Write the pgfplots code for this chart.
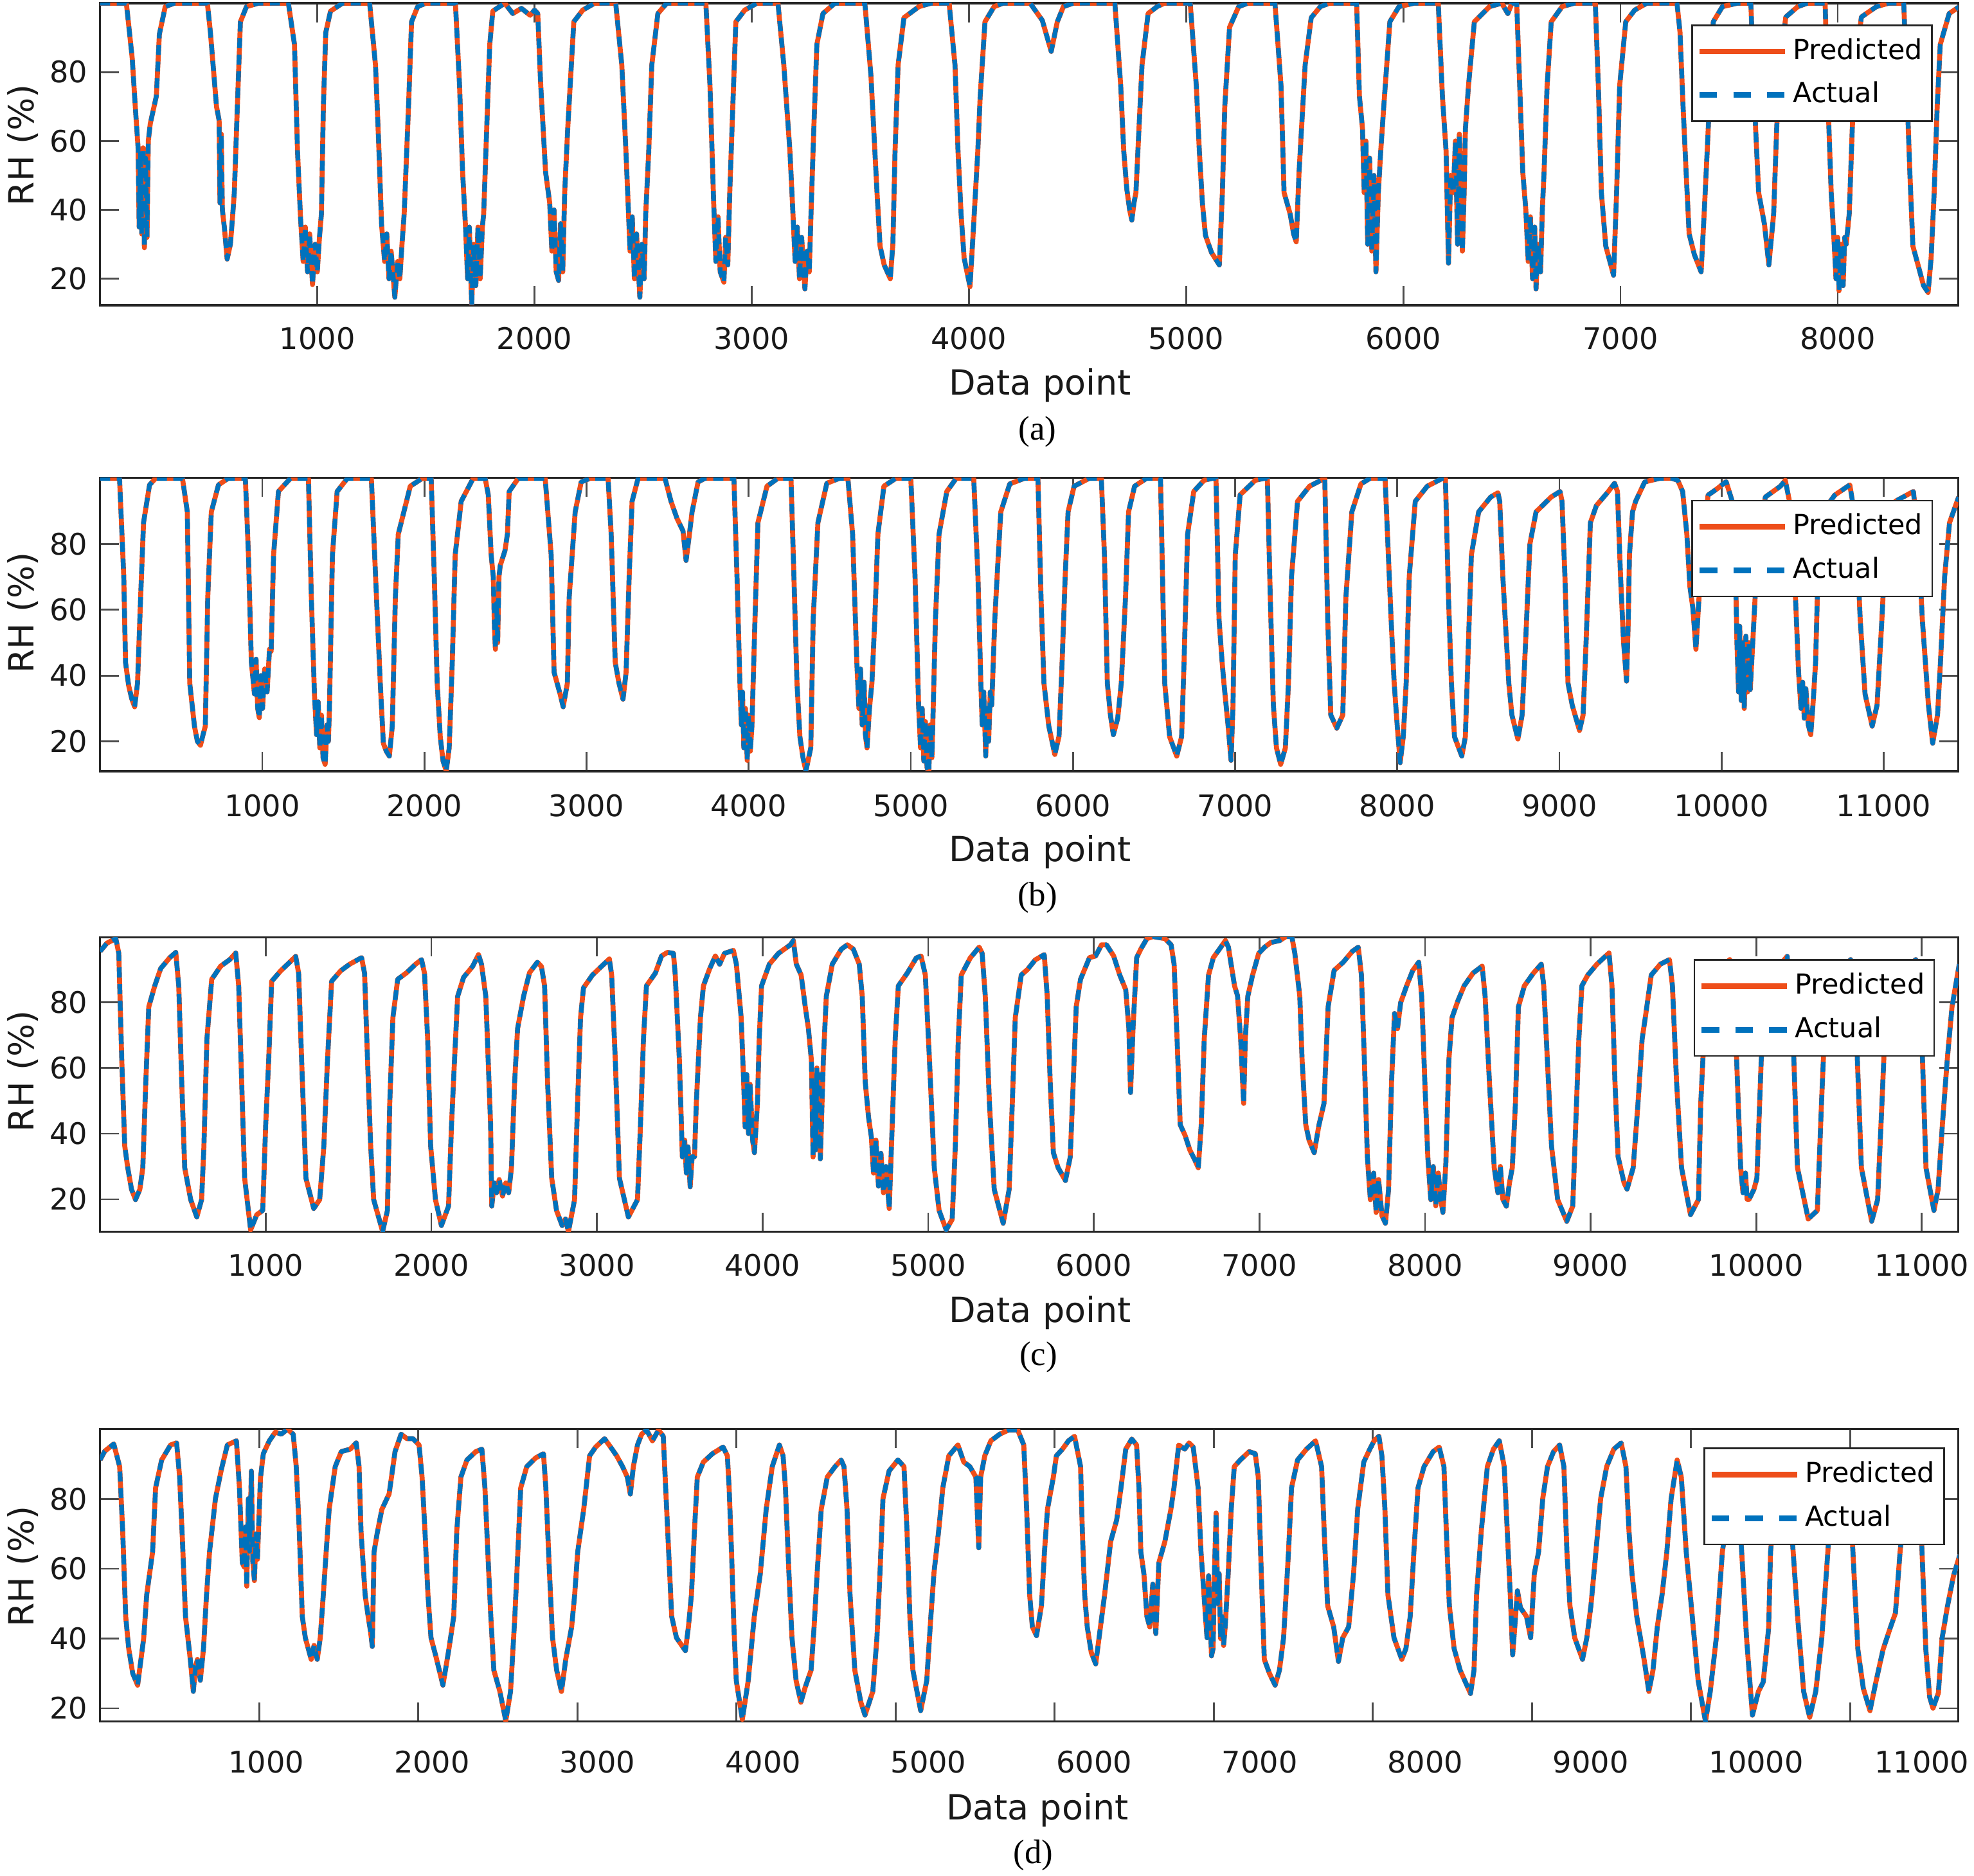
\documentclass[border=0pt]{standalone}
\usepackage{fontspec}
\setmainfont{DejaVu Sans}
\newfontfamily\capfont{Liberation Serif}
\usepackage{pgfplots}
\usepackage{pgfplotstable}
\pgfplotsset{compat=1.18}
\definecolor{predc}{RGB}{238,78,26}
\definecolor{actc}{RGB}{0,114,189}

\pgfplotstableread[row sep=\\]{x y\\
0 100\\ 121 100\\ 148 84\\ 162 70\\ 175 58\\ 180 35\\ 186 57\\ 192 33\\ 198 58\\ 204 29\\ 210 55\\ 216 32\\ 222 60\\ 231 65\\ 259 73\\ 273 91\\ 300 99\\ 342 100\\
494 100\\ 508 91.5\\ 536 70\\ 548 66\\ 552 42\\ 558 62\\ 563 40\\ 572 35\\ 585 25.7\\ 600 30\\ 610 38\\ 618 45\\ 632 70\\ 646 94.6\\ 674 99\\ 729 100\\
867 100\\ 895 88\\ 909 57\\ 923 37.5\\ 935 25\\ 945 35\\ 955 22\\ 965 33\\ 978 18.3\\ 990 30\\ 1000 22\\ 1010 32\\ 1019 38.8\\ 1028 70\\ 1039 91.5\\ 1061 97.7\\ 1116 100\\
1241 100\\ 1268 82\\ 1282 60.5\\ 1296 35.7\\ 1310 25\\ 1320 33\\ 1330 20\\ 1340 28\\ 1357 14.6\\ 1370 25\\ 1380 20\\ 1390 30\\ 1400 38.8\\ 1420 70\\ 1434 94.6\\ 1462 99\\ 1500 100\\
1636 100\\ 1655 76\\ 1669 51\\ 1683 34.4\\ 1692 20\\ 1700 35\\ 1711 12.2\\ 1720 30\\ 1730 18\\ 1740 35\\ 1750 20\\ 1760 35\\ 1766 38.8\\ 1780 63.6\\ 1794 88\\ 1808 97.7\\ 1863 100\\ 1900 97\\ 1940 98.5\\ 1980 96.5\\ 2000 98\\ 2015 97\\
2028 77\\ 2051 51\\ 2070 42\\ 2080 28\\ 2090 40\\ 2100 22\\ 2111 19.5\\ 2120 36\\ 2130 22\\ 2139 45\\ 2153 63.6\\ 2181 94.6\\ 2222 98\\ 2277 100\\
2374 100\\ 2402 82\\ 2421 57\\ 2429 45\\ 2440 28\\ 2450 38\\ 2460 20\\ 2470 33\\ 2485 14.6\\ 2495 30\\ 2505 20\\ 2512 38.8\\ 2526 57\\ 2540 82\\ 2568 97\\ 2609 100\\
2789 100\\ 2808 76\\ 2825 42\\ 2835 25\\ 2845 38\\ 2855 22\\ 2872 19\\ 2880 32\\ 2890 24\\ 2899 45\\ 2913 70\\ 2927 94.6\\ 2968 98\\ 3024 100\\
3121 100\\ 3148 82\\ 3176 57\\ 3190 38.8\\ 3200 25\\ 3210 35\\ 3220 20\\ 3230 32\\ 3245 17\\ 3255 28\\ 3265 22\\ 3273 38.8\\ 3286 63.6\\ 3300 88\\ 3328 97\\ 3383 100\\
3521 100\\ 3549 79\\ 3577 45\\ 3591 29.5\\ 3610 24\\ 3638 20\\ 3650 30\\ 3660 57\\ 3674 82\\ 3701 95.8\\ 3770 99\\ 3826 100\\
3909 100\\ 3936 82\\ 3950 57\\ 3964 38.8\\ 3978 26\\ 4005 17.7\\ 4019 32.6\\ 4041 57\\ 4052 73\\ 4074 94.6\\ 4116 99\\ 4157 100\\
4282 100\\ 4338 95\\ 4379 86\\ 4407 94.6\\ 4435 99\\ 4480 100\\
4672 100\\ 4699 76\\ 4713 57\\ 4727 46\\ 4740 40\\ 4750 37\\ 4760 42\\ 4769 45\\ 4783 63.6\\ 4797 82\\ 4825 97\\ 4866 99\\ 4900 100\\
5019 100\\ 5047 76\\ 5061 57\\ 5075 42\\ 5089 32.6\\ 5117 27.6\\ 5153 24\\ 5167 45\\ 5178 70\\ 5200 93\\ 5242 99\\ 5284 100\\
5409 100\\ 5437 76\\ 5451 45\\ 5479 38.8\\ 5495 33\\ 5507 30.7\\ 5520 51\\ 5548 82\\ 5576 95.8\\ 5618 99\\ 5660 100\\
5785 100\\ 5798 73\\ 5812 63.6\\ 5820 45\\ 5828 60\\ 5836 30\\ 5845 55\\ 5855 28\\ 5865 50\\ 5874 22\\ 5885 45\\ 5896 57\\ 5910 70\\ 5938 94.6\\ 5980 99\\ 6050 100\\
6161 100\\ 6180 73\\ 6197 57\\ 6208 24.5\\ 6218 50\\ 6230 45\\ 6240 60\\ 6250 30\\ 6258 62\\ 6272 28\\ 6280 45\\ 6286 63.6\\ 6300 76\\ 6327 94.6\\ 6397 99\\ 6453 100\\ 6481 97\\ 6500 100\\
6522 100\\ 6536 76\\ 6550 51\\ 6564 40\\ 6575 25\\ 6585 38\\ 6595 20\\ 6605 35\\ 6611 17\\ 6620 30\\ 6632 22\\ 6640 40\\ 6648 51\\ 6662 76\\ 6681 94.6\\ 6731 99\\ 6787 100\\
6884 100\\ 6898 76\\ 6912 45\\ 6932 29.5\\ 6968 21\\ 6982 45\\ 6996 76\\ 7024 94.6\\ 7065 98\\ 7121 100\\
7260 100\\ 7274 91.5\\ 7288 70\\ 7302 51\\ 7316 33\\ 7340 27\\ 7371 22\\ 7385 38.8\\ 7399 57\\ 7413 76\\ 7427 94.6\\ 7469 99\\ 7538 100\\
7600 100\\ 7622 63.6\\ 7636 45\\ 7663 35.7\\ 7683 24\\ 7705 38.8\\ 7719 63.6\\ 7733 82\\ 7761 96\\ 7816 99\\ 7860 100\\
7942 100\\ 7956 70\\ 7970 45\\ 7984 30\\ 7992 20\\ 8000 32\\ 8006 16.5\\ 8015 30\\ 8025 18\\ 8032 32\\ 8039 30\\ 8053 38.8\\ 8067 63.6\\ 8081 82\\ 8109 96\\ 8178 99\\ 8234 100\\
8304 100\\ 8318 76\\ 8332 51\\ 8346 29.5\\ 8374 23\\ 8395 18\\ 8416 16\\ 8430 26\\ 8444 45\\ 8458 70\\ 8472 88\\ 8513 97\\ 8560 99\\
}\tabA

\pgfplotstableread[row sep=\\]{x y\\
0 100\\ 120 100\\ 146 70.2\\ 157 44\\ 176 37\\ 195 33\\ 213 30.5\\ 231 37.7\\ 250 63.7\\ 268 86.5\\ 305 98\\ 342 100\\
508 100\\ 538 89.8\\ 553 37.7\\ 582 24.6\\ 600 20\\ 619 18.8\\ 635 22\\ 649 24.6\\ 664 63.7\\ 686 89.8\\ 730 98\\ 790 100\\
896 100\\ 915 76.7\\ 933 44\\ 952 34.4\\ 962 45\\ 972 30\\ 982 27.2\\ 992 40\\ 1002 30\\ 1015 42\\ 1030 35\\ 1045 48\\ 1055 47.4\\ 1070 76.7\\ 1100 96\\ 1174 100\\
1285 100\\ 1303 63.7\\ 1322 34.4\\ 1335 22\\ 1345 32\\ 1355 18\\ 1365 28\\ 1375 15\\ 1388 13\\ 1400 25\\ 1408 20\\ 1414 29\\ 1433 76.7\\ 1462 96\\ 1525 100\\
1673 100\\ 1699 70.2\\ 1728 37.7\\ 1747 19.4\\ 1765 17\\ 1784 15.5\\ 1802 24.6\\ 1821 63.7\\ 1839 83\\ 1913 97.6\\ 1987 100\\
2042 100\\ 2061 70.2\\ 2079 37.7\\ 2098 21.4\\ 2115 14\\ 2135 11\\ 2153 18\\ 2172 44\\ 2190 76.7\\ 2227 93\\ 2301 100\\
2375 100\\ 2394 95\\ 2412 76.7\\ 2425 70\\ 2432 55\\ 2438 48\\ 2445 62\\ 2452 50\\ 2460 70\\ 2468 73.5\\ 2497 78\\ 2512 83\\ 2523 96\\ 2579 100\\
2745 100\\ 2782 76.7\\ 2800 41\\ 2837 34.4\\ 2856 30.5\\ 2882 37.7\\ 2893 63.7\\ 2930 89.8\\ 2967 98.9\\ 3022 100\\
3133 100\\ 3152 83\\ 3177 44\\ 3200 37.7\\ 3225 32.8\\ 3244 41\\ 3263 70.2\\ 3281 93\\ 3318 100\\
3484 100\\ 3521 93\\ 3558 87.8\\ 3595 84\\ 3614 75\\ 3632 82\\ 3651 89.8\\ 3688 98.9\\ 3730 100\\
3909 100\\ 3928 70.2\\ 3946 37.7\\ 3955 25\\ 3962 35\\ 3970 18\\ 3980 30\\ 3991 14.2\\ 4000 28\\ 4010 17\\ 4020 24.6\\ 4039 57.2\\ 4057 86.5\\ 4113 97.6\\ 4180 100\\
4261 100\\ 4279 70.2\\ 4298 37.7\\ 4316 21.4\\ 4335 15\\ 4353 11\\ 4383 18\\ 4398 57.2\\ 4427 86.5\\ 4482 98.5\\ 4560 100\\
4612 100\\ 4641 83\\ 4667 44\\ 4680 30\\ 4690 42\\ 4700 25\\ 4712 38\\ 4720 22\\ 4730 18\\ 4745 30\\ 4760 37.7\\ 4778 57.2\\ 4797 83\\ 4834 97.6\\ 4908 100\\
5000 100\\ 5026 70.2\\ 5048 31\\ 5060 18\\ 5070 30\\ 5080 14\\ 5090 26\\ 5100 12\\ 5111 10.5\\ 5120 25\\ 5130 15\\ 5137 28\\ 5152 57.2\\ 5174 83\\ 5222 96\\ 5280 100\\
5388 100\\ 5414 70.2\\ 5432 37.7\\ 5440 25\\ 5450 35\\ 5462 15.5\\ 5470 30\\ 5480 20\\ 5490 35\\ 5499 31\\ 5518 57.2\\ 5536 73.5\\ 5555 89.8\\ 5610 98.3\\ 5700 100\\
5784 100\\ 5803 63.7\\ 5821 37.7\\ 5851 24.6\\ 5888 16\\ 5914 21.5\\ 5933 44\\ 5952 70.2\\ 5970 89.8\\ 6007 97.6\\ 6100 100\\
6175 100\\ 6194 76.7\\ 6212 37.7\\ 6231 28\\ 6249 22\\ 6276 27\\ 6298 37.7\\ 6324 63.7\\ 6343 89.8\\ 6380 97.6\\ 6454 100\\
6540 100\\ 6555 63.7\\ 6566 37.7\\ 6596 21.4\\ 6640 15.5\\ 6670 21.4\\ 6685 44\\ 6707 83\\ 6745 96\\ 6808 99.4\\ 6860 100\\
6882 100\\ 6901 57\\ 6920 44\\ 6931 37.7\\ 6957 24.6\\ 6975 14.2\\ 6987 31\\ 7001 76.7\\ 7031 95\\ 7124 99.4\\ 7180 100\\
7199 100\\ 7217 63.7\\ 7236 31\\ 7255 18\\ 7281 13\\ 7310 18\\ 7329 37.7\\ 7348 70.2\\ 7385 93\\ 7459 97.6\\ 7553 100\\
7571 57.2\\ 7590 28\\ 7627 24\\ 7664 28\\ 7683 63.7\\ 7720 89.8\\ 7776 98.3\\ 7832 100\\
7925 100\\ 7962 57.2\\ 7981 37.7\\ 8000 24.6\\ 8018 13.5\\ 8037 21.4\\ 8055 37.7\\ 8074 70.2\\ 8111 93\\ 8185 97.6\\ 8279 100\\
8297 100\\ 8316 63.7\\ 8334 37.7\\ 8353 21.4\\ 8398 15.5\\ 8420 21.4\\ 8435 44\\ 8457 76.7\\ 8502 89.8\\ 8576 94.3\\ 8621 95.6\\
8632 93\\ 8651 70.2\\ 8688 37.7\\ 8707 28\\ 8744 20.7\\ 8770 28\\ 8792 50.7\\ 8818 80\\ 8856 89.8\\ 8949 94.3\\ 9004 96\\
9016 93\\ 9034 70.2\\ 9053 37.7\\ 9079 31\\ 9124 23.3\\ 9146 28\\ 9165 50.7\\ 9191 86.5\\ 9228 91.7\\ 9302 96\\ 9340 98.5\\
9358 96\\ 9377 70.2\\ 9395 50.7\\ 9414 38.3\\ 9425 57.2\\ 9432 76.7\\ 9451 89.8\\ 9470 93\\ 9526 98.9\\ 9619 100\\ 9693 100\\ 9730 99.4\\
9760 96\\ 9786 83\\ 9805 67\\ 9823 60.5\\ 9842 48\\ 9861 63.7\\ 9879 80\\ 9917 94.9\\ 9972 96.8\\ 10028 99\\
10066 93\\ 10084 76.7\\ 10095 50\\ 10105 35\\ 10112 55\\ 10121 32.4\\ 10130 50\\ 10140 30\\ 10150 52\\ 10160 35\\ 10170 50\\ 10177 35.7\\ 10207 63.7\\ 10233 83\\ 10270 94.3\\ 10363 97.6\\ 10393 99.4\\
10419 93\\ 10456 63.7\\ 10475 41\\ 10490 30\\ 10500 38\\ 10510 27\\ 10520 36\\ 10535 25\\ 10550 22\\ 10565 32\\ 10580 44\\ 10594 70.2\\ 10624 89.8\\ 10698 94.9\\ 10791 98\\
10829 86.5\\ 10855 57.2\\ 10885 34.4\\ 10929 24.6\\ 10959 31\\ 10989 57.2\\ 11015 83\\ 11071 93\\ 11183 96\\
11212 83\\ 11238 57.2\\ 11276 31\\ 11302 19.4\\ 11332 28\\ 11350 44\\ 11376 70.2\\ 11406 86.5\\ 11462 94.3\\
}\tabB

\pgfplotstableread[row sep=\\]{x y\\
0 95.5\\ 41 98\\ 95 99.4\\ 113 94.9\\ 131 62.3\\ 149 36.2\\ 167 29.6\\ 190 23\\ 214 19.9\\ 240 23\\ 258 29.6\\ 276 55.7\\ 294 78.6\\ 330 85\\ 366 90.3\\ 421 93.6\\ 457 95.2\\
475 85\\ 493 55.7\\ 511 29.6\\ 547 19.9\\ 584 14.6\\ 613 19.9\\ 627 36.2\\ 645 68.8\\ 674 87\\ 728 91\\ 783 93\\ 819 95\\
837 85\\ 855 55.7\\ 873 26.4\\ 909 10.7\\ 946 15.3\\ 982 16.6\\ 1000 42.7\\ 1018 62.3\\ 1036 86.4\\ 1091 89.6\\ 1145 92.2\\ 1181 94\\
1199 88.8\\ 1217 62.3\\ 1243 26.4\\ 1290 17.2\\ 1326 19.9\\ 1351 36.2\\ 1373 62.3\\ 1398 86.4\\ 1453 89.6\\ 1507 91.6\\ 1579 93.6\\
1597 88.8\\ 1615 62.3\\ 1634 36.2\\ 1652 19.9\\ 1706 10.2\\ 1735 16.6\\ 1749 49.2\\ 1768 75.3\\ 1797 87\\ 1851 89\\ 1905 91.6\\ 1941 93\\
1959 88.8\\ 1978 68.8\\ 1996 36.2\\ 2025 19.9\\ 2061 12\\ 2104 17.9\\ 2122 42.7\\ 2140 62.3\\ 2159 81.8\\ 2195 87.6\\ 2249 90.9\\ 2285 94.5\\
2303 91.6\\ 2329 81.8\\ 2358 42.7\\ 2365 17.9\\ 2380 25\\ 2394 22\\ 2410 26\\ 2430 21\\ 2450 25\\ 2467 22\\ 2484 29.6\\ 2503 55.7\\ 2521 72\\ 2557 81.8\\ 2593 89\\ 2640 92.2\\ 2665 90.9\\
2684 85\\ 2702 55.7\\ 2727 26.4\\ 2756 16.6\\ 2790 12\\ 2810 14\\ 2828 10.2\\ 2865 19.9\\ 2883 49.2\\ 2901 75.3\\ 2919 84.4\\ 2973 88.3\\ 3027 90.9\\ 3075 93.2\\
3089 88.3\\ 3111 62.3\\ 3136 26.4\\ 3190 14.6\\ 3245 19.9\\ 3263 42.7\\ 3281 68.8\\ 3299 85\\ 3353 88.9\\ 3390 94.1\\ 3426 95.2\\ 3462 94.9\\
3473 88.3\\ 3498 62.3\\ 3516 32.9\\ 3530 38\\ 3540 28\\ 3550 36\\ 3563 23.8\\ 3575 33\\ 3589 32.9\\ 3600 49.2\\ 3625 75.3\\ 3643 85\\ 3679 90\\ 3715 94.1\\ 3741 91.6\\ 3770 94.9\\ 3824 95.8\\
3842 91.6\\ 3871 75.3\\ 3886 55.7\\ 3895 42\\ 3905 58\\ 3915 40\\ 3925 55\\ 3940 38\\ 3951 34.2\\ 3969 49.2\\ 3980 68.8\\ 3994 85\\ 4041 91.6\\ 4096 94.9\\ 4168 97.5\\ 4186 98.8\\
4204 91.6\\ 4233 88.3\\ 4258 78.6\\ 4277 72\\ 4295 62.3\\ 4305 32.9\\ 4312 55\\ 4320 35\\ 4328 60\\ 4336 38\\ 4342 58\\ 4349 32.3\\ 4367 62.3\\ 4385 81.8\\ 4421 91.6\\ 4476 96.2\\ 4512 97.5\\ 4548 96.2\\ 4584 91.6\\
4602 81.8\\ 4620 55.7\\ 4640 45\\ 4657 39\\ 4670 28\\ 4685 38\\ 4700 24\\ 4715 34\\ 4730 22\\ 4745 30\\ 4765 17.2\\ 4783 42.7\\ 4801 68.8\\ 4820 85\\ 4874 88.9\\ 4928 93.5\\ 4957 94.1\\
4983 88.3\\ 5008 62.3\\ 5037 29.6\\ 5066 16.6\\ 5109 10.7\\ 5145 13.9\\ 5164 36.2\\ 5182 68.8\\ 5200 88.3\\ 5254 93.5\\ 5308 96.8\\ 5326 94.9\\
5345 81.8\\ 5370 49.2\\ 5399 23\\ 5453 12.7\\ 5489 23\\ 5508 49.2\\ 5526 75.3\\ 5562 88.3\\ 5600 90\\ 5646 92.9\\ 5701 94.5\\
5719 81.8\\ 5737 55.7\\ 5756 34.2\\ 5785 29.6\\ 5829 25.7\\ 5858 32.9\\ 5876 55.7\\ 5894 78.6\\ 5920 87\\ 5974 93.6\\ 6011 94.1\\ 6047 97.5\\ 6077 97.5\\ 6120 94.1\\ 6157 88.3\\ 6193 83.8\\
6212 72\\ 6222 52.5\\ 6237 72\\ 6259 93.6\\ 6284 96.2\\ 6321 99.4\\ 6357 100\\ 6430 99.4\\ 6467 97.5\\
6485 91.6\\ 6503 68.8\\ 6522 42.7\\ 6551 39.5\\ 6580 35\\ 6610 32\\ 6631 29.6\\ 6649 42.7\\ 6667 68.8\\ 6693 88.3\\ 6722 93.6\\ 6759 96.2\\ 6795 98.8\\ 6813 96.8\\
6850 85\\ 6868 82\\ 6887 68.8\\ 6905 49.2\\ 6915 68.8\\ 6930 81.8\\ 6959 88.3\\ 6996 94.9\\ 7032 96.8\\ 7069 98.2\\ 7123 98.8\\ 7160 100\\ 7196 100\\
7214 94.9\\ 7244 81.8\\ 7258 62.3\\ 7280 42.7\\ 7300 38\\ 7331 34.2\\ 7360 42.7\\ 7390 49.2\\ 7415 78.6\\ 7451 89.7\\ 7506 92.2\\ 7561 95.5\\ 7597 96.8\\
7616 88.3\\ 7634 62.3\\ 7652 32.9\\ 7670 19.9\\ 7690 28\\ 7705 16\\ 7720 26\\ 7740 15\\ 7761 12.7\\ 7780 23\\ 7798 55.7\\ 7816 76.6\\ 7834 72\\ 7853 79.9\\ 7889 85\\ 7926 89.7\\ 7962 92.2\\
7980 81.8\\ 7999 55.7\\ 8017 32.9\\ 8035 19.9\\ 8050 30\\ 8065 18\\ 8080 28\\ 8095 20\\ 8108 16\\ 8126 31\\ 8144 62.3\\ 8163 75.3\\ 8199 80.5\\ 8236 85\\ 8290 88.9\\ 8345 91\\
8363 81.8\\ 8389 55.7\\ 8418 29.6\\ 8440 22\\ 8455 30\\ 8470 20\\ 8491 17.9\\ 8510 25\\ 8527 29.6\\ 8546 49.2\\ 8564 78.6\\ 8600 85\\ 8655 88.9\\ 8702 91.6\\
8717 85\\ 8739 62.3\\ 8764 36.2\\ 8801 19.9\\ 8856 13.3\\ 8892 17.9\\ 8910 42.7\\ 8929 68.8\\ 8947 85\\ 8983 88.3\\ 9038 91.6\\ 9111 95\\
9129 85\\ 9147 55.7\\ 9166 32.9\\ 9202 25\\ 9220 23.1\\ 9257 29.6\\ 9286 49.2\\ 9311 68.8\\ 9330 75.3\\ 9366 88.3\\ 9421 91.6\\ 9476 93\\
9494 85\\ 9519 55.7\\ 9549 29.6\\ 9603 15.3\\ 9651 19.9\\ 9665 49.2\\ 9687 72\\ 9720 85\\ 9780 90\\ 9840 93\\
9877 68.8\\ 9906 29.6\\ 9920 22\\ 9935 28\\ 9945 20\\ 9957 20\\ 9986 23\\ 10004 26.4\\ 10030 62.3\\ 10059 81.8\\ 10120 90\\ 10187 94\\
10223 68.8\\ 10249 29.6\\ 10314 14\\ 10369 16.6\\ 10394 49.2\\ 10416 75.3\\ 10480 88\\ 10570 93\\
10606 68.8\\ 10635 29.6\\ 10697 13.3\\ 10733 19.9\\ 10759 49.2\\ 10781 75.3\\ 10860 88\\ 10963 93\\
11000 68.8\\ 11025 29.6\\ 11073 16.6\\ 11098 23\\ 11124 42.7\\ 11153 62.3\\ 11182 78.6\\ 11226 91.6\\
}\tabC

\pgfplotstableread[row sep=\\]{x y\\
0 91.2\\ 29 93.7\\ 86 95.8\\ 123 89.3\\ 142 70.9\\ 161 46.3\\ 180 37.1\\ 205 30\\ 236 26.6\\ 274 40\\ 293 52.5\\ 330 64.8\\ 349 83.2\\ 387 91.2\\ 443 95.5\\ 481 96.1\\
500 86.3\\ 518 67.8\\ 537 46.3\\ 567 34\\ 586 24.8\\ 600 32\\ 612 34\\ 630 28\\ 650 37.1\\ 669 52.5\\ 688 64.8\\ 725 80.1\\ 763 88.6\\ 800 95.5\\ 857 96.7\\
876 83.2\\ 894 61.7\\ 906 60.5\\ 915 72\\ 922 55\\ 932 80.1\\ 940 65\\ 951 88\\ 960 62\\ 970 56.6\\ 980 70\\ 989 62.7\\ 1008 85.9\\ 1026 93\\ 1064 96.7\\ 1102 99.2\\ 1139 98.6\\ 1177 100\\ 1214 98.6\\
1233 89.3\\ 1252 70.9\\ 1271 46.3\\ 1290 40.2\\ 1327 34\\ 1345 38\\ 1365 34\\ 1384 40.2\\ 1403 52.5\\ 1421 64.8\\ 1440 77.1\\ 1478 89.3\\ 1516 93.6\\ 1572 94.3\\ 1610 96.1\\
1628 89.3\\ 1640 70.9\\ 1666 52.5\\ 1685 46.3\\ 1700 42\\ 1711 37.7\\ 1722 64.8\\ 1741 70\\ 1771 77\\ 1817 81.5\\ 1854 93.6\\ 1892 98.6\\ 1929 97.3\\ 1967 97.3\\ 2005 95.5\\
2024 86.3\\ 2042 70.9\\ 2061 52.5\\ 2080 40.2\\ 2110 35\\ 2155 26.6\\ 2193 37.1\\ 2223 46.3\\ 2242 70.9\\ 2268 86.3\\ 2306 91.2\\ 2362 93.6\\ 2400 94.3\\
2419 83.2\\ 2437 64.8\\ 2456 46.3\\ 2475 30.9\\ 2513 24.8\\ 2550 16.4\\ 2580 24.8\\ 2607 46.3\\ 2626 64.8\\ 2644 83.2\\ 2682 89.3\\ 2738 91.8\\ 2787 93\\
2802 83.2\\ 2825 58.6\\ 2844 40.2\\ 2870 30.9\\ 2900 24.8\\ 2927 34\\ 2964 43.3\\ 2983 52.5\\ 3002 64.8\\ 3040 77.1\\ 3077 92.4\\ 3115 94.9\\ 3171 97.3\\ 3209 94.9\\ 3247 92.4\\ 3284 89.3\\ 3314 86.3\\ 3333 81.4\\ 3352 89.3\\ 3378 95.5\\ 3404 98.6\\ 3435 99.8\\ 3472 96.7\\ 3510 99.8\\ 3540 98\\
3555 83.2\\ 3574 64.8\\ 3593 46.3\\ 3623 40.2\\ 3679 36.5\\ 3698 43.3\\ 3717 52.5\\ 3736 70.9\\ 3754 86.3\\ 3792 90.6\\ 3849 93\\ 3916 94.9\\ 3943 92.4\\
3954 83.2\\ 3969 64.8\\ 3984 43.3\\ 3999 27.9\\ 4037 16.8\\ 4074 27.9\\ 4112 46.3\\ 4150 58.6\\ 4187 77.1\\ 4225 89.3\\ 4270 95.5\\ 4293 92.4\\
4308 83.2\\ 4330 58.6\\ 4349 40.2\\ 4375 27.9\\ 4405 21.7\\ 4432 26\\ 4469 30.9\\ 4488 43.3\\ 4507 58.6\\ 4533 77.1\\ 4571 86.3\\ 4620 89.3\\ 4658 91.2\\ 4676 89.3\\
4695 77.1\\ 4714 52.5\\ 4744 30.9\\ 4782 21.7\\ 4808 18\\ 4857 24.8\\ 4883 40.2\\ 4902 58.6\\ 4921 80.1\\ 4959 88\\ 5015 91.2\\ 5053 89.3\\
5072 70.9\\ 5090 46.3\\ 5109 30.9\\ 5158 19.3\\ 5196 27.9\\ 5222 46.3\\ 5241 58.6\\ 5271 70.9\\ 5297 83.2\\ 5335 92.4\\ 5392 95.5\\ 5429 90.6\\ 5467 89.3\\ 5505 86.3\\ 5523 66\\ 5535 86.3\\ 5561 92.4\\ 5599 96.7\\ 5655 98.6\\ 5711 99.8\\ 5768 99.8\\ 5806 95.5\\
5824 77.1\\ 5843 52.5\\ 5860 43.3\\ 5886 40.8\\ 5917 49.4\\ 5936 64.8\\ 5955 77.1\\ 5992 86.3\\ 6011 92.4\\ 6049 94.3\\ 6087 96.7\\ 6125 98\\ 6163 89.3\\
6174 70.9\\ 6189 52.5\\ 6205 43.3\\ 6230 36\\ 6258 32.7\\ 6288 43.3\\ 6314 52.5\\ 6352 67.8\\ 6390 74\\ 6417 83.2\\ 6447 94.3\\ 6485 97.2\\ 6515 95.5\\ 6530 83.2\\
6542 64.8\\ 6561 58.6\\ 6580 46.3\\ 6598 43.3\\ 6617 55.6\\ 6636 41.4\\ 6655 61.7\\ 6693 67.8\\ 6731 77.1\\ 6750 83.2\\ 6780 95.5\\ 6818 94.3\\ 6845 96.1\\ 6871 94.9\\ 6902 83.2\\
6920 64.8\\ 6939 52.5\\ 6950 45\\ 6958 40.2\\ 6968 58\\ 6977 46.3\\ 6986 35\\ 6996 37.1\\ 7005 60\\ 7015 76\\ 7025 50\\ 7034 58.6\\ 7043 40\\ 7053 46.3\\ 7062 38\\ 7072 43.3\\ 7091 58.6\\ 7110 77.1\\ 7129 89.3\\ 7167 91.2\\ 7223 93.6\\ 7261 93\\ 7280 86.3\\
7299 58.6\\ 7318 34\\ 7350 30\\ 7386 26.6\\ 7413 30.9\\ 7439 40.2\\ 7470 64.8\\ 7489 83.2\\ 7527 91.2\\ 7583 94.3\\ 7640 96.7\\ 7678 89.3\\
7697 67.8\\ 7716 49.4\\ 7754 43.3\\ 7784 33.4\\ 7811 40.2\\ 7848 43.3\\ 7879 58.6\\ 7905 77.1\\ 7943 90.6\\ 7981 94.3\\ 8008 96.7\\ 8038 98\\ 8057 92.4\\
8076 77.1\\ 8095 52.5\\ 8133 40.2\\ 8182 34\\ 8208 37.1\\ 8235 46.3\\ 8258 64.8\\ 8284 83.2\\ 8322 89.3\\ 8379 93.6\\ 8417 94.9\\ 8447 89.3\\
8462 70.9\\ 8481 49.4\\ 8511 37.1\\ 8549 30.9\\ 8614 24.2\\ 8636 30.9\\ 8652 52.5\\ 8682 70.9\\ 8720 89.3\\ 8758 94.3\\ 8795 96.7\\ 8826 89.3\\
8845 70.9\\ 8864 52.5\\ 8879 35.3\\ 8895 45\\ 8909 53.7\\ 8928 48.8\\ 8966 46.3\\ 8992 40.2\\ 9015 58.6\\ 9042 64.8\\ 9068 80.1\\ 9098 89.3\\ 9136 93.6\\ 9174 95.5\\ 9201 89.3\\
9220 64.8\\ 9239 49.4\\ 9269 40.2\\ 9318 34\\ 9345 40.2\\ 9371 49.4\\ 9402 64.8\\ 9432 80.1\\ 9470 89.3\\ 9515 94.3\\ 9561 96.1\\ 9591 89.3\\
9610 70.9\\ 9629 58.6\\ 9659 46.3\\ 9705 34\\ 9735 24.8\\ 9761 30.9\\ 9788 43.3\\ 9818 52.5\\ 9848 64.8\\ 9875 80.1\\ 9913 91.2\\ 9939 86.3\\
9970 64.8\\ 10008 46.3\\ 10045 27.9\\ 10091 16.2\\ 10121 24.8\\ 10159 40.2\\ 10197 64.8\\ 10235 77\\ 10273 90\\
10311 70.9\\ 10349 40.2\\ 10386 18\\ 10424 24.8\\ 10454 27.5\\ 10488 43\\ 10500 64.8\\ 10540 85\\ 10576 92\\ 10610 80\\
10633 70.9\\ 10670 46.3\\ 10708 24.8\\ 10746 17.4\\ 10784 24.8\\ 10822 40.2\\ 10860 64.8\\ 10890 85\\ 10917 92\\ 10960 85\\
11011 70.9\\ 11049 36.8\\ 11083 25.7\\ 11125 19.3\\ 11162 27.5\\ 11207 36.8\\ 11252 43\\ 11285 47.3\\ 11314 64.8\\ 11371 90\\ 11420 80\\
11447 70.9\\ 11476 36.8\\ 11500 23.2\\ 11521 20\\ 11555 24.4\\ 11578 40\\ 11611 49\\ 11650 58\\ 11690 64\\
}\tabD

\pgfplotsset{
  rhaxis/.style={
    scale only axis, width=184.5mm,
    xmin=0, clip=true,
    axis line style={draw=black!85, line width=0.6pt},
    tick align=inside,
    major tick length=1.9mm,
    every tick/.style={draw=black!70, line width=0.5pt},
    ytick={20,40,60,80},
    tick label style={font=\fontsize{8.4}{10}\selectfont, text=black!90},
    /pgf/number format/assume math mode=true,
    /pgf/number format/1000 sep={},
    scaled x ticks=false, scaled y ticks=false,
    xticklabel style={anchor=center},
    xlabel={Data point}, ylabel={RH (\%)},
    label style={font=\fontsize{9.8}{12}\selectfont, text=black!90},
    legend cell align=left,
    legend image code/.code={\draw[##1] (0mm,0mm) -- (8.5mm,0mm);},
    legend style={anchor=north east, draw=black!85, line width=0.5pt, fill=white,
      inner xsep=0.44mm, inner ysep=0.8mm, row sep=0.7mm,
      font=\fontsize{7.8}{9}\selectfont, nodes={inner sep=0.5mm},
      /tikz/every even column/.append style={column sep=0.6mm}},
  },
  predline/.style={predc, line width=1.4pt, line join=round},
  actline/.style={actc, line width=1.3pt, line join=round, dash pattern=on 1.0mm off 0.65mm},
}

\newcommand{\legendbits}{%
  \addlegendimage{predc, line width=1.6pt}
  \addlegendentry{Predicted}
  \addlegendimage{actc, line width=1.6pt, dash pattern=on 1.75mm off 1.6mm}
  \addlegendentry{Actual}
}

\begin{document}
\begin{tikzpicture}
\path[use as bounding box] (0mm,0mm) rectangle (196mm,-186.3mm);

% (a)
\begin{axis}[rhaxis, at={(9.9375mm,-30.3125mm)}, anchor=south west,
  height=29.99mm, xmax=8555, ymin=12.3, ymax=100,
  xtick={1000,2000,...,8000},
  xticklabel style={yshift=-3.31mm},
  xlabel style={at={(axis description cs:0.5058,-0.2647)}, anchor=center},
  ylabel style={at={(axis description cs:-0.0417,0.53)}, anchor=center},
  legend style={at={(axis description cs:0.9864,0.930)}}]
\addplot[predline, forget plot] table[x=x,y=y]{\tabA};
\addplot[actline, forget plot] table[x=x,y=y]{\tabA};
\legendbits
\end{axis}

% (b)
\begin{axis}[rhaxis, at={(9.9375mm,-76.5875mm)}, anchor=south west,
  height=29.15mm, xmax=11460, ymin=10.9, ymax=100.2,
  xtick={1000,2000,...,11000},
  xticklabel style={yshift=-3.41mm},
  xlabel style={at={(axis description cs:0.5058,-0.2757)}, anchor=center},
  ylabel style={at={(axis description cs:-0.0417,0.54)}, anchor=center},
  legend style={at={(axis description cs:0.9864,0.925)}}]
\addplot[predline, forget plot] table[x=x,y=y]{\tabB};
\addplot[actline, forget plot] table[x=x,y=y]{\tabB};
\legendbits
\end{axis}

% (c)
\begin{axis}[rhaxis, at={(9.9375mm,-122.325mm)}, anchor=south west,
  height=29.25mm, xmax=11220, ymin=10.1, ymax=99.8,
  xtick={1000,2000,...,11000},
  xticklabel style={yshift=-3.30mm},
  xlabel style={at={(axis description cs:0.5058,-0.2752)}, anchor=center},
  ylabel style={at={(axis description cs:-0.0417,0.545)}, anchor=center},
  legend style={at={(axis description cs:0.9875,0.9256)}}]
\addplot[predline, forget plot] table[x=x,y=y]{\tabC};
\addplot[actline, forget plot] table[x=x,y=y]{\tabC};
\legendbits
\end{axis}

% (d): tick marks at 1000 steps, their labels set slightly to the right, as in the reference
\begin{axis}[rhaxis, at={(9.9375mm,-170.95mm)}, anchor=south west,
  height=29.05mm, xmax=11680, ymin=16.2, ymax=100.1,
  xtick={1000,2000,...,11000},
  xticklabels={{},{},{},{},{},{},{},{},{},{},{}},
  extra x ticks={1045,2086,3126,4167,5207,6248,7289,8329,9370,10410,11451},
  extra x tick labels={1000,2000,3000,4000,5000,6000,7000,8000,9000,10000,11000},
  extra x tick style={major tick length=0pt, tick style={draw=none}},
  xticklabel style={yshift=-4.05mm},
  xlabel style={at={(axis description cs:0.5044,-0.3029)}, anchor=center},
  ylabel style={at={(axis description cs:-0.0417,0.53)}, anchor=center},
  legend style={at={(axis description cs:0.9929,0.9363)}}]
\addplot[predline, forget plot] table[x=x,y=y]{\tabD};
\addplot[actline, forget plot] table[x=x,y=y]{\tabD};
\legendbits
\end{axis}

\node[font=\capfont\fontsize{9.6}{11}\selectfont] at (103mm,-42.875mm) {(a)};
\node[font=\capfont\fontsize{9.6}{11}\selectfont] at (103mm,-89.125mm) {(b)};
\node[font=\capfont\fontsize{9.6}{11}\selectfont] at (103.1mm,-134.75mm) {(c)};
\node[font=\capfont\fontsize{9.6}{11}\selectfont] at (102.6mm,-184.25mm) {(d)};
\end{tikzpicture}
\end{document}
